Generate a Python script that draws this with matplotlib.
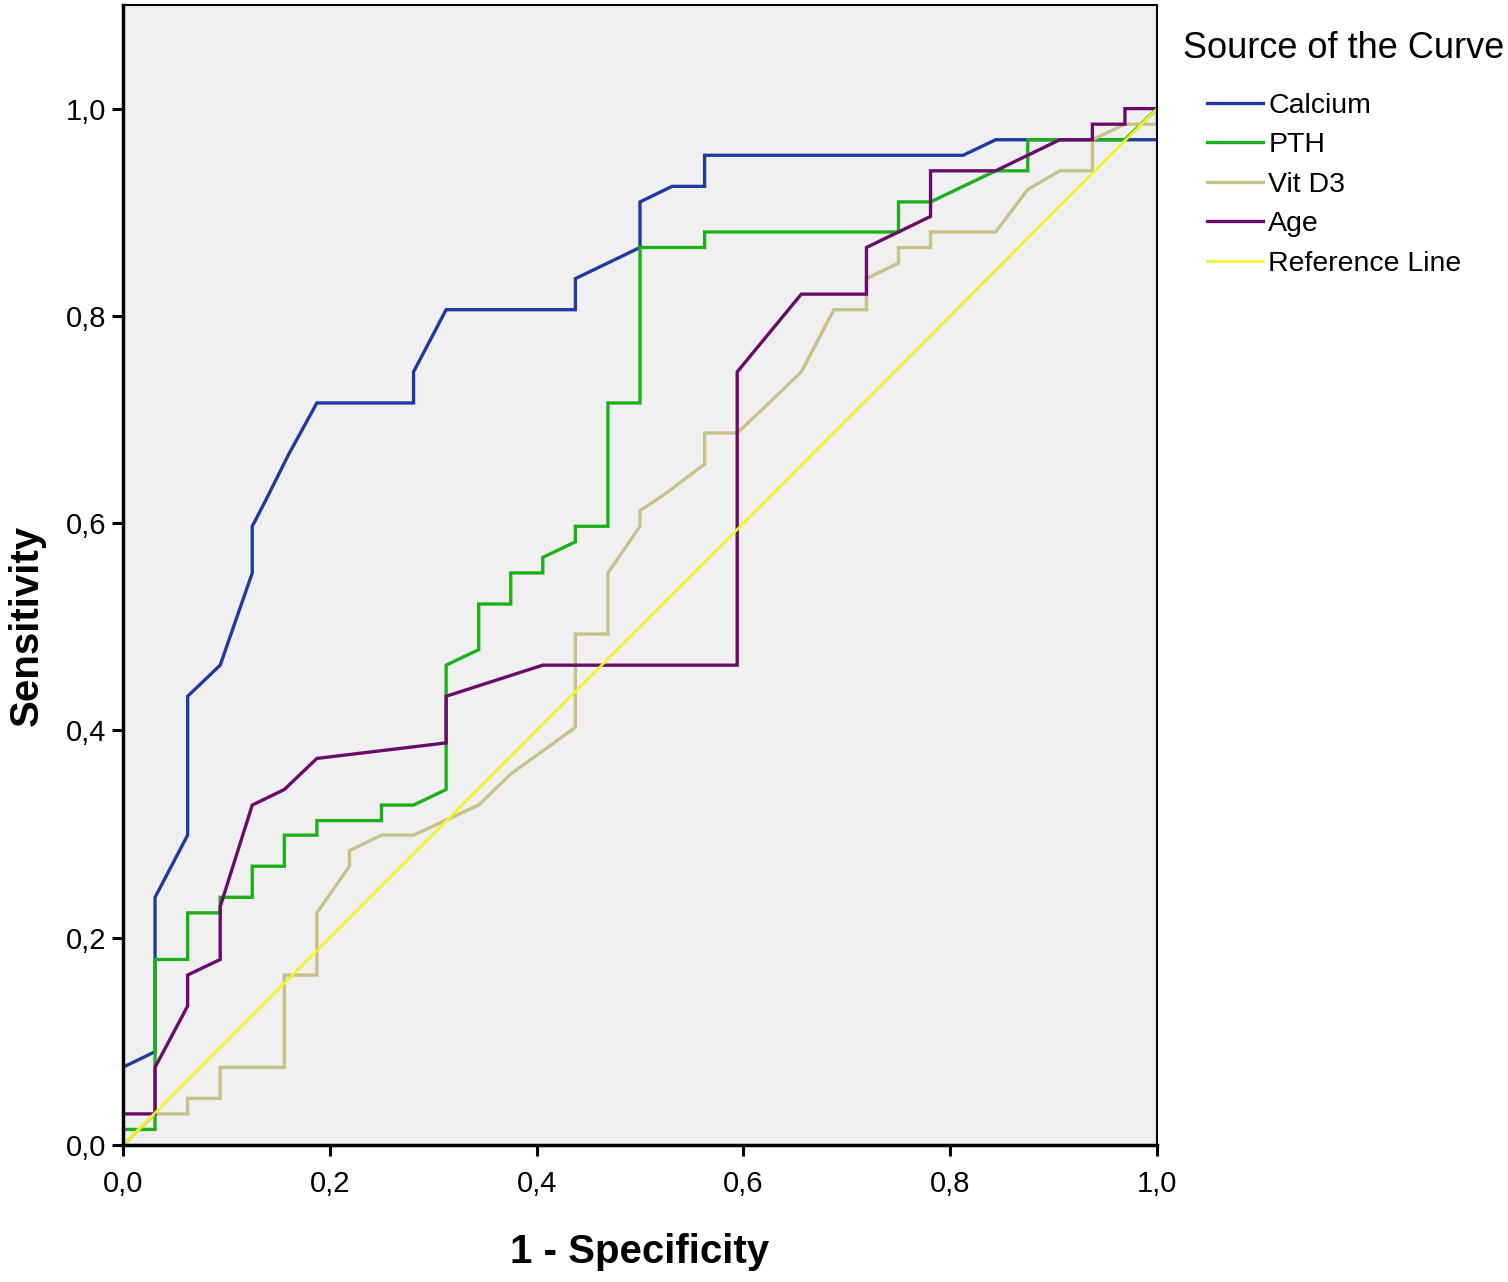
import matplotlib
matplotlib.use("Agg")
import matplotlib.pyplot as plt

plt.rcParams['font.family'] = ['Liberation Sans', 'DejaVu Sans']

# ---- data ----
series_names = ["Calcium", "PTH", "Vit D3", "Age", "Reference Line"]

calcium_x = [0, 0, 0.031, 0.031, 0.0625, 0.0625, 0.094, 0.125, 0.125, 0.138, 0.160, 0.1875,
             0.281, 0.281, 0.3125, 0.4375, 0.4375, 0.5, 0.5, 0.531, 0.5625, 0.5625, 0.8125, 0.844, 1.0]
calcium_y = [0, 0.075, 0.090, 0.239, 0.299, 0.433, 0.463, 0.552, 0.597, 0.622, 0.666, 0.716,
             0.716, 0.746, 0.806, 0.806, 0.836, 0.866, 0.910, 0.925, 0.925, 0.955, 0.955, 0.970, 0.970]

pth_x = [0, 0, 0.031, 0.031, 0.0625, 0.0625, 0.094, 0.094, 0.125, 0.125, 0.156, 0.156, 0.1875, 0.1875,
         0.25, 0.25, 0.281, 0.3125, 0.3125, 0.344, 0.344, 0.375, 0.375, 0.406, 0.406, 0.4375, 0.4375,
         0.469, 0.469, 0.5, 0.5, 0.5625, 0.5625, 0.75, 0.75, 0.781, 0.844, 0.875, 0.875, 0.969, 1.0]
pth_y = [0, 0.015, 0.015, 0.179, 0.179, 0.224, 0.224, 0.239, 0.239, 0.269, 0.269, 0.299, 0.299, 0.313,
         0.313, 0.328, 0.328, 0.343, 0.463, 0.478, 0.522, 0.522, 0.552, 0.552, 0.567, 0.582, 0.597,
         0.597, 0.716, 0.716, 0.866, 0.866, 0.881, 0.881, 0.910, 0.910, 0.940, 0.940, 0.970, 0.970, 1.0]

vitd3_x = [0, 0.031, 0.0625, 0.0625, 0.094, 0.094, 0.156, 0.156, 0.1875, 0.1875, 0.219, 0.219, 0.25,
           0.281, 0.344, 0.375, 0.4375, 0.4375, 0.469, 0.469, 0.5, 0.5, 0.5225, 0.5625, 0.5625, 0.594,
           0.629, 0.656, 0.6875, 0.719, 0.719, 0.75, 0.75, 0.781, 0.781, 0.844, 0.875, 0.906, 0.9375,
           0.9375, 0.969, 1.0, 1.0]
vitd3_y = [0, 0.030, 0.030, 0.045, 0.045, 0.075, 0.075, 0.164, 0.164, 0.224, 0.269, 0.284, 0.299,
           0.299, 0.328, 0.358, 0.403, 0.493, 0.493, 0.552, 0.597, 0.612, 0.627, 0.657, 0.687, 0.687,
           0.720, 0.746, 0.806, 0.806, 0.836, 0.851, 0.866, 0.866, 0.881, 0.881, 0.922, 0.940, 0.940,
           0.970, 0.985, 0.985, 1.0]

age_x = [0, 0, 0.031, 0.031, 0.0625, 0.0625, 0.094, 0.094, 0.125, 0.156, 0.1875, 0.3125, 0.3125,
         0.406, 0.594, 0.594, 0.656, 0.719, 0.719, 0.781, 0.781, 0.844, 0.906, 0.9375, 0.9375, 0.969,
         0.969, 1.0]
age_y = [0, 0.030, 0.030, 0.075, 0.134, 0.164, 0.179, 0.230, 0.328, 0.343, 0.373, 0.388, 0.433,
         0.463, 0.463, 0.746, 0.821, 0.821, 0.866, 0.896, 0.940, 0.940, 0.970, 0.970, 0.985, 0.985,
         1.0, 1.0]

ref_x = [0, 1]
ref_y = [0, 1]

tick_values = [0.0, 0.2, 0.4, 0.6, 0.8, 1.0]
tick_labels = ["0,0", "0,2", "0,4", "0,6", "0,8", "1,0"]

colors = ["#1f3a9e", "#1cb01c", "#c9c08a", "#6a0a6a", "#f5f520"]
widths = [2.4, 2.4, 2.4, 2.4, 1.9]

# ---- figure ----
W, H = 1508, 1282
fig = plt.figure(figsize=(W / 100, H / 100), dpi=100)
ax = fig.add_axes([123 / W, 1 - 1145 / H, (1157 - 123) / W, (1145 - 5) / H])
ax.set_facecolor("#f0f0f0")

xs = [calcium_x, pth_x, vitd3_x, age_x, ref_x]
ys = [calcium_y, pth_y, vitd3_y, age_y, ref_y]
handles = []
for name, x, y, c, lw in zip(series_names, xs, ys, colors, widths):
    h, = ax.plot(x, y, color=c, lw=lw, label=name, solid_joinstyle="miter", clip_on=True)
    handles.append(h)

ax.set_xlim(0, 1)
ax.set_ylim(0, 1.1)
ax.set_xticks(tick_values)
ax.set_xticklabels(tick_labels)
ax.set_yticks(tick_values)
ax.set_yticklabels(tick_labels)
ax.tick_params(axis="both", direction="out", length=8, width=2.2, labelsize=21, color="black")
ax.tick_params(axis="x", pad=10)
ax.tick_params(axis="y", pad=4)

for side in ["left", "bottom"]:
    ax.spines[side].set_linewidth(2.5)
for side in ["top", "right"]:
    ax.spines[side].set_linewidth(1.5)

ax.set_xlabel("1 - Specificity", fontsize=29, fontweight="bold")
ax.xaxis.set_label_coords(0.5, (1145 - 1252) / 1140)
ax.xaxis.label.set_va("center")
ax.set_ylabel("Sensitivity", fontsize=29, fontweight="bold")
ax.yaxis.set_label_coords((27 - 123) / 1034, (1145 - 625) / 1140)
ax.yaxis.label.set_va("center")

fig.text(1183 / W, 1 - 48 / H, "Source of the Curve", fontsize=26, ha="left", va="center")
fig.legend(handles=handles, loc="upper left", bbox_to_anchor=(1207 / W, 1 - 93 / H),
           bbox_transform=fig.transFigure, frameon=False, fontsize=20.5,
           handlelength=1.95, handletextpad=0.2, labelspacing=0.47, borderpad=0, borderaxespad=0)

fig.savefig("out.png", dpi=100, facecolor="white")
